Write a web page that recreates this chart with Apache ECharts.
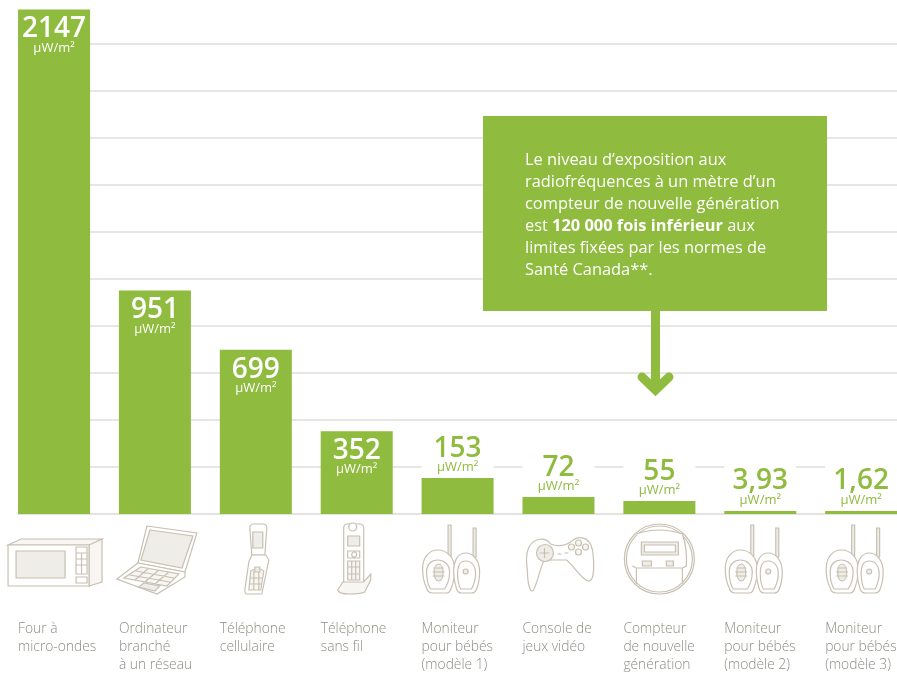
<!DOCTYPE html>
<html>
<head>
<meta charset="utf-8">
<style>html,body{margin:0;padding:0;background:#fff}#main{width:897px;height:675px}</style>
<script src="https://cdn.jsdelivr.net/npm/echarts@6/dist/echarts.min.js"></script>
</head>
<body>
<div id="main"></div>
<script>
var categories = ['Four à\nmicro-ondes', 'Ordinateur\nbranché\nà un réseau', 'Téléphone\ncellulaire', 'Téléphone\nsans fil',
    'Moniteur\npour bébés\n(modèle 1)', 'Console de\njeux vidéo', 'Compteur\nde nouvelle\ngénération',
    'Moniteur\npour bébés\n(modèle 2)', 'Moniteur\npour bébés\n(modèle 3)'];
var values = [2147, 951, 699, 352, 153, 72, 55, 3.93, 1.62];
var valueLabels = ['2147', '951', '699', '352', '153', '72', '55', '3,93', '1,62'];
var labelsInside = [true, true, true, true, false, false, false, false, false];
var iconNames = ['oven', 'laptop', 'flip', 'cordless', 'baby', 'pad', 'meter', 'baby', 'baby'];
var unit = 'µW/m²';

var green = '#8fbb3e';
var lineCol = '#c8c0b2';
var fillCol = '#efede7';

// icons are drawn around the bar centre, y = 0 is the baseline
var icons = {
    oven: [
        ['M-46 31L-33 25H48L35 31Z M35 31L48 25V68L35 72Z', '#f7f6f2'],
        ['M-46 31H35V72H-46Z', '#fff'],
        ['M-38 37H11V64H-38Z', fillCol],
        ['M22 33H33V60H22Z M22 45H33 M22 51H33 M22 39H33 M27.5 39V60 M22 63H33V69H22Z', '#fff']
    ],
    laptop: [
        ['M-8 12L42 19L30 58L-17 49Z', '#fff'],
        ['M-5 16L38 22L27 54L-14 46Z', fillCol],
        ['M-17 49L30 58L30 63L2 80L-38 65Z', '#fff'],
        ['M-14 53L24 60L12 72L-31 64Z M-19 57L19 64 M-25 61L15 68 M-6 54L-20 66 M4 56L-10 68 M14 58L0 70', '#f7f6f2'],
        ['M-11 69L5 72L0 77L-16 73Z', fillCol]
    ],
    flip: [
        ['M-6 14Q-6 10 -2 10H7Q11 10 11 14L9 41H-4Z', '#fff'],
        ['M-3 18H7V34H-3Z', fillCol],
        ['M-4 41H10L13 46L6 80H-9Q-11 80 -11 76L-7 48Z', '#fff'],
        ['M-5 57Q2 52 8 57L5 76H-7Z M-6 64H7 M-7 70H6 M-2 57V76 M3 57V76', '#f7f6f2'],
        ['M-1 53H4V58H-1Z', fillCol]
    ],
    cordless: [
        ['M-13 14Q-13 10 -9 10H3Q7 10 7 14V69H-13Z', '#fff'],
        ['M-8 13A4 4 0 1 0 0 13A4 4 0 1 0 -8 13Z', '#fff'],
        ['M-9 22H3V32H-9Z', fillCol],
        ['M-9 37H3V44H-9Z M-5 40.5A2.5 2.5 0 1 0 0 40.5A2.5 2.5 0 1 0 -5 40.5Z', '#fff'],
        ['M-9 47H3V66H-9Z M-9 53H3 M-9 60H3 M-5 47V66 M-1 47V66', '#f7f6f2'],
        ['M-14 68H7L14 60V66L8 78Q4 80 -8 80Q-18 80 -19 76Z', '#f7f6f2']
    ],
    baby: [
        ['M-9.5 11H-6.5V42H-9.5Z M15.5 14H18.5V43H15.5Z', fillCol],
        ['M-20 36C-29 36 -35 44 -35 55C-35 64 -33 70 -31 74C-30 78 -28 79 -25 79H-11C-8 79 -7 77 -6 73C-4 68 -3 62 -3 55C-3 44 -10 36 -20 36Z', '#fff'],
        ['M-20 46C-26 46 -31 50 -31 58C-31 66 -29 72 -27 75H-13C-11 72 -8 66 -8 58C-8 50 -14 46 -20 46Z', '#fff'],
        ['M-19 50C-25 50 -25 67 -19 67C-13 67 -13 50 -19 50Z M-24 54H-14 M-25 58H-13 M-25 62H-13', fillCol],
        ['M8 39C0 39 -4 47 -4 58C-4 66 -2 72 -1 75C0 78 2 79 4 79H14C17 79 18 78 19 75C21 70 22 65 22 58C22 47 16 39 8 39Z', '#fff'],
        ['M8 47C2 47 0 52 0 60C0 66 1 71 3 75H14C16 71 18 66 18 60C18 52 14 47 8 47Z', '#fff'],
        ['M8 55A2.5 2.5 0 1 0 8 60A2.5 2.5 0 1 0 8 55Z', fillCol]
    ],
    pad: [
        ['M-30 34C-24 22 -12 24 -8 30C0 33 6 32 12 28C20 21 31 22 34 36C36 50 36 68 30 67C24 67 14 50 8 46H-14C-18 52 -20 66 -25 76C-28 80 -31 70 -31 58C-32 48 -33 42 -30 34Z', '#fff'],
        ['M-22 39A8.5 8.5 0 1 0 -5 39A8.5 8.5 0 1 0 -22 39Z', fillCol],
        ['M-14 34V44 M-19 39H-9', '#fff'],
        ['M-1 40H3 M6 39H10', '#fff'],
        ['M17 29A3 3 0 1 0 23 29A3 3 0 1 0 17 29Z M24 33A3 3 0 1 0 30 33A3 3 0 1 0 24 33Z M17 38A3 3 0 1 0 23 38A3 3 0 1 0 17 38Z M10 33A3 3 0 1 0 16 33A3 3 0 1 0 10 33Z', '#f7f6f2']
    ],
    meter: [
        ['M-35 45A35 35 0 1 0 35 45A35 35 0 1 0 -35 45Z', '#fff'],
        ['M-33 45A33 33 0 1 0 33 45A33 33 0 1 0 -33 45Z', '#fff'],
        ['M-23 20Q0 12 23 20Q28 34 27 52L23 54V70M-27 52L-23 54V70M-23 54H23', '#fff'],
        ['M-18 28H19V41H-18Z', fillCol],
        ['M-15 31H16V38H-15Z', '#fff'],
        ['M-17 47H-8V52H-17Z M7 47H14V52H7Z', fillCol]
    ]
};

var myChart = echarts.init(document.getElementById('main'));

var option = {
    animation: false,
    grid: [
        // rules start at the left edge of the first bar
        { left: 18, width: 879, top: -3, height: 517, outerBoundsMode: 'none' },
        { left: 3.6, width: 908, top: -3, height: 517, outerBoundsMode: 'none' }
    ],
    xAxis: [
        {
            gridIndex: 0,
            type: 'category',
            data: categories,
            axisLine: { lineStyle: { color: '#e3e3e0', width: 2 } },
            axisTick: { show: false },
            axisLabel: { show: false }
        },
        {
            gridIndex: 1,
            type: 'category',
            data: categories,
            axisLine: { show: false },
            axisTick: { show: false },
            axisLabel: {
                interval: 0,
                margin: 106,
                align: 'center',
                verticalAlign: 'top',
                formatter: function (v) {
                    return v.split('\n').map(function (l) { return '{a|' + l + '}'; }).join('\n');
                },
                rich: {
                    a: {
                        width: 72, align: 'left', lineHeight: 18, color: '#8e8e86',
                        fontFamily: 'Open Sans', fontWeight: 300, fontSize: 13.8
                    }
                }
            }
        }
    ],
    yAxis: [
        {
            gridIndex: 0,
            type: 'value',
            min: 0,
            max: 2200,
            interval: 200,
            axisLine: { show: false },
            axisTick: { show: false },
            axisLabel: { show: false },
            splitLine: { lineStyle: { color: '#e6e6e3', width: 2 } }
        },
        {
            gridIndex: 1,
            type: 'value',
            min: 0,
            max: 2200,
            interval: 200,
            show: false
        }
    ],
    series: [
        {
            type: 'bar',
            xAxisIndex: 1,
            yAxisIndex: 1,
            barWidth: 72,
            barMinHeight: 3,
            itemStyle: { color: green },
            data: values.map(function (v, i) {
                var inside = labelsInside[i];
                return {
                    value: v,
                    label: {
                        show: true,
                        position: inside ? 'insideTop' : 'top',
                        distance: inside ? 7.5 : 0,
                        formatter: (inside ? '{w|' : '{g|') + valueLabels[i] + '}\n' + (inside ? '{wu|' : '{gu|') + unit + '}',
                        backgroundColor: inside ? 'transparent' : '#fff',
                        width: 72,
                        align: 'center',
                        padding: inside ? 0 : [4, 0, 5, 0],
                        rich: {
                            w: { color: '#fff', fontFamily: 'Open Sans', fontWeight: 600, fontSize: 28, lineHeight: 25, align: 'center' },
                            wu: { color: '#fff', fontFamily: 'Open Sans', fontSize: 13, lineHeight: 12, align: 'center' },
                            g: { color: green, fontFamily: 'Open Sans', fontWeight: 600, fontSize: 28, lineHeight: 25, align: 'center' },
                            gu: { color: green, fontFamily: 'Open Sans', fontSize: 13, lineHeight: 12, align: 'center' }
                        }
                    }
                };
            })
        },
        {
            type: 'custom',
            xAxisIndex: 1,
            yAxisIndex: 1,
            silent: true,
            data: categories.map(function (c, i) { return [i, 0]; }),
            renderItem: function (params, api) {
                var p = api.coord([api.value(0), 0]);
                var parts = icons[iconNames[params.dataIndex]];
                return {
                    type: 'group',
                    x: p[0],
                    y: p[1],
                    children: parts.map(function (part) {
                        return {
                            type: 'path',
                            shape: { pathData: part[0] },
                            style: { fill: part[1], stroke: lineCol, lineWidth: 1.2 }
                        };
                    })
                };
            }
        }
    ],
    graphic: [
        { type: 'rect', z: 20, shape: { x: 483, y: 116, width: 344, height: 195 }, style: { fill: green } },
        { type: 'rect', z: 20, shape: { x: 651, y: 311, width: 9, height: 79 }, style: { fill: green } },
        {
            type: 'polyline', z: 20,
            shape: { points: [[642, 377], [655.5, 390], [669, 377]] },
            style: { fill: null, stroke: green, lineWidth: 9, lineCap: 'round', lineJoin: 'miter' }
        },
        {
            type: 'text', z: 21, x: 525, y: 149,
            style: {
                text: '{n|Le niveau d’exposition aux}\n{n|radiofréquences à un mètre d’un}\n{n|compteur de nouvelle génération}\n{n|est }{b|120 000 fois inférieur}{n| aux}\n{n|limites fixées par les normes de}\n{n|Santé Canada**.}',
                rich: {
                    n: { fill: '#fff', fontFamily: 'Open Sans', fontSize: 16.4, lineHeight: 22 },
                    b: { fill: '#fff', fontFamily: 'Open Sans', fontSize: 16.4, fontWeight: 700, lineHeight: 22 }
                }
            }
        }
    ]
};
myChart.setOption(option);
</script>
</body>
</html>
